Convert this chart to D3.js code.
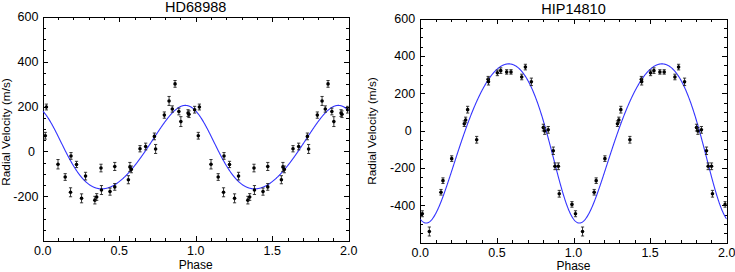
<!DOCTYPE html>
<html><head><meta charset="utf-8">
<script src="https://cdn.jsdelivr.net/npm/d3@7/dist/d3.min.js"></script>
<style>
body{margin:0;background:#fff}
text{font-family:"Liberation Sans",Arial,Helvetica,sans-serif;fill:#000}
</style>
</head><body>
<svg id="chart" width="735" height="272"></svg>
<script>
// ---- Data: HD68988 (phase in [0,1), radial velocity m/s, error m/s)
const hdPhase = [0.024,0.017,0.100,0.147,0.182,0.185,0.221,0.254,0.280,0.341,0.353,0.381,0.384,0.440,0.471,0.471,0.560,0.570,0.579,0.636,0.673,0.730,0.738,0.795,0.826,0.865,0.847,0.890,0.903,0.950,0.956,0.993];
const hdRV    = [198,70,-57,-114,-182,-20,-58,-209,-110,-217,-203,-74,-172,-179,-67,-158,-126,-69,-80,12,22,67,11,162,225,301,189,178,133,171,166,186];
const hdErr   = [13,15,21,15,20,15,14,20,17,17,15,17,20,16,18,15,18,20,15,14,15,15,20,14,20,15,14,15,22,15,15,15];

// ---- Data: HIP14810
const hipPhase = [0.013,0.059,0.135,0.148,0.205,0.287,0.296,0.309,0.368,0.443,0.445,0.503,0.525,0.564,0.592,0.662,0.686,0.725,0.803,0.812,0.835,0.868,0.879,0.901,0.907,0.990];
const hipRV    = [-445,-540,-330,-268,-150,37,57,112,-49,275,262,309,321,314,314,287,340,261,16,-2,4,-108,-191,-191,-338,-395];
const hipErr   = [16,24,15,15,15,15,15,18,18,15,18,15,15,12,12,15,15,20,18,18,18,20,18,18,18,15];

// ---- Keplerian model parameters: [K, e, omega(deg), tPeri(phase), gamma]
const hdModelParams  = [186, 0.11, 42, 0.027, 4];
const hipModelParams = [426, 0.14, 154.5, 0.985, -15];

// ---- Axis ticks
const xTickLabels   = [0.0, 0.5, 1.0, 1.5, 2.0];
const hdYTickLabels = [-200, 0, 200, 400, 600];
const hipYTickLabels= [-400, -200, 0, 200, 400, 600];
const titles = ["HD68988", "HIP14810"];

function keplerRV(phase, p) {
  const [K, e, wDeg, tp, g] = p;
  const w = wDeg * Math.PI / 180;
  const M = 2 * Math.PI * (phase - tp);
  let E = M;
  for (let i = 0; i < 30; i++) E = E - (E - e * Math.sin(E) - M) / (1 - e * Math.cos(E));
  const nu = 2 * Math.atan2(Math.sqrt(1 + e) * Math.sin(E / 2), Math.sqrt(1 - e) * Math.cos(E / 2));
  return g + K * (Math.cos(nu + w) + e * Math.cos(w));
}

const svg = d3.select("#chart");
svg.append("rect").attr("width", 735).attr("height", 272).attr("fill", "#fff");

function panel(cfg) {
  const x = d3.scaleLinear().domain([0, 2]).range([cfg.x0, cfg.x1]);
  const y = d3.scaleLinear().domain(cfg.yDomain).range([cfg.y0, cfg.y1]);
  const g = svg.append("g");

  // minor/major ticks, inward on all four sides
  const xMinor = d3.range(0, 2.0001, 0.1);
  const yMinor = d3.range(cfg.yDomain[0], cfg.yDomain[1] + 0.1, 50);
  const tk = g.append("g").attr("stroke", "#000").attr("stroke-width", 1).attr("shape-rendering", "crispEdges");
  xMinor.forEach(v => {
    const major = Math.abs(v * 2 - Math.round(v * 2)) < 1e-6;
    const L = major ? 5 : 3;
    const px = Math.round(x(v)) + 0.5;
    tk.append("line").attr("x1", px).attr("x2", px).attr("y1", cfg.y0).attr("y2", cfg.y0 - L);
    tk.append("line").attr("x1", px).attr("x2", px).attr("y1", cfg.y1).attr("y2", cfg.y1 + L);
  });
  yMinor.forEach(v => {
    const major = Math.abs(v % 200) < 1e-6;
    const L = major ? 5 : 3;
    const py = Math.round(y(v)) + 0.5;
    tk.append("line").attr("y1", py).attr("y2", py).attr("x1", cfg.x0).attr("x2", cfg.x0 + L);
    tk.append("line").attr("y1", py).attr("y2", py).attr("x1", cfg.x1).attr("x2", cfg.x1 - L);
  });
  g.append("rect").attr("x", Math.round(cfg.x0) + 0.5).attr("y", Math.round(cfg.y1) + 0.5)
    .attr("width", Math.round(cfg.x1) - Math.round(cfg.x0)).attr("height", Math.round(cfg.y0) - Math.round(cfg.y1))
    .attr("fill", "none").attr("stroke", "#000").attr("stroke-width", 1).attr("shape-rendering", "crispEdges");

  // tick labels
  g.append("g").selectAll("text").data(xTickLabels).join("text")
    .attr("x", d => x(d)).attr("y", cfg.y0 + 14).attr("text-anchor", "middle")
    .attr("font-size", 12.5).text(d => d3.format(".1f")(d));
  g.append("g").selectAll("text").data(cfg.yTicks).join("text")
    .attr("x", d => cfg.x0 - cfg.labPad + (d === 0 ? -3.5 : 0)).attr("y", d => y(d) + 4.5)
    .attr("text-anchor", "end").attr("font-size", 12.5).text(d => d);

  // titles
  g.append("text").attr("x", (cfg.x0 + cfg.x1) / 2).attr("y", cfg.titleY).attr("text-anchor", "middle")
    .attr("font-size", 14.5).text(cfg.title);
  g.append("text").attr("x", (cfg.x0 + cfg.x1) / 2).attr("y", cfg.y0 + 27.5).attr("text-anchor", "middle")
    .attr("font-size", 12).text("Phase");
  g.append("text").attr("transform", `translate(${cfg.yLabX},${cfg.yLabY}) rotate(-90)`)
    .attr("text-anchor", "middle").attr("font-size", 11.8).text("Radial Velocity (m/s)");

  const clip = "clip" + cfg.title;
  svg.append("clipPath").attr("id", clip).append("rect")
    .attr("x", cfg.x0).attr("y", cfg.y1).attr("width", cfg.x1 - cfg.x0).attr("height", cfg.y0 - cfg.y1);

  // model curve
  const ph = d3.range(0, 2.0001, 0.002);
  g.append("path").datum(ph).attr("clip-path", `url(#${clip})`)
    .attr("fill", "none").attr("stroke", "#3434ff").attr("stroke-width", 1.1)
    .attr("d", d3.line().x(d => x(d)).y(d => y(keplerRV(d, cfg.model))));

  // data (repeated over two phases)
  const pts = [];
  cfg.phase.forEach((p, i) => { pts.push([p, cfg.rv[i], cfg.err[i]]); pts.push([p + 1, cfg.rv[i], cfg.err[i]]); });
  const dg = g.append("g").attr("clip-path", `url(#${clip})`);
  pts.forEach(([p, v, e]) => {
    const px = x(p), yt = y(v + e), yb = y(v - e);
    dg.append("line").attr("x1", px).attr("x2", px).attr("y1", yt).attr("y2", yb).attr("stroke", "#222").attr("stroke-width", 0.9);
    dg.append("line").attr("x1", px - 1.6).attr("x2", px + 1.6).attr("y1", yt).attr("y2", yt).attr("stroke", "#222").attr("stroke-width", 0.9);
    dg.append("line").attr("x1", px - 1.6).attr("x2", px + 1.6).attr("y1", yb).attr("y2", yb).attr("stroke", "#222").attr("stroke-width", 0.9);
    dg.append("circle").attr("cx", px).attr("cy", y(v)).attr("r", 1.8).attr("fill", "#000");
  });
}

panel({title: titles[0], x0: 42.7, x1: 348.7, y0: 241.2, y1: 16.8, yDomain: [-400, 600],
  yTicks: hdYTickLabels, labPad: 4.3, titleY: 12.2, yLabX: 9.5, yLabY: 132,
  phase: hdPhase, rv: hdRV, err: hdErr, model: hdModelParams});
panel({title: titles[1], x0: 420.3, x1: 726.7, y0: 242.7, y1: 18.5, yDomain: [-600, 600],
  yTicks: hipYTickLabels, labPad: 5.2, titleY: 13.6, yLabX: 375.7, yLabY: 131,
  phase: hipPhase, rv: hipRV, err: hipErr, model: hipModelParams});
</script>
</body></html>
